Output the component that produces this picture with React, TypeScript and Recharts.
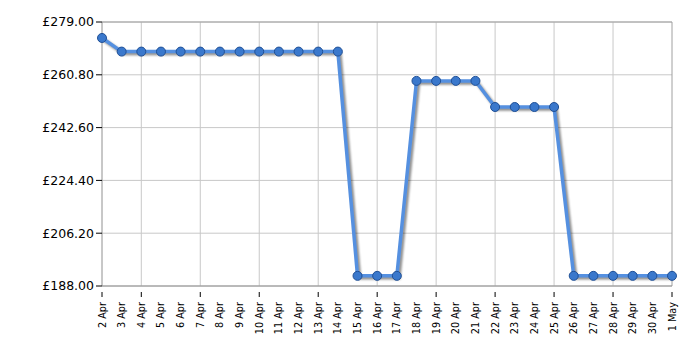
import { CartesianGrid, Line, LineChart, ReferenceLine, XAxis, YAxis } from "recharts";

const days = [
  "2 Apr", "3 Apr", "4 Apr", "5 Apr", "6 Apr", "7 Apr", "8 Apr", "9 Apr", "10 Apr", "11 Apr",
  "12 Apr", "13 Apr", "14 Apr", "15 Apr", "16 Apr", "17 Apr", "18 Apr", "19 Apr", "20 Apr", "21 Apr",
  "22 Apr", "23 Apr", "24 Apr", "25 Apr", "26 Apr", "27 Apr", "28 Apr", "29 Apr", "30 Apr", "1 May",
];

const prices = [
  273.5, 268.8, 268.8, 268.8, 268.8, 268.8, 268.8, 268.8, 268.8, 268.8,
  268.8, 268.8, 268.8, 191.5, 191.5, 191.5, 258.7, 258.7, 258.7, 258.7,
  249.7, 249.7, 249.7, 249.7, 191.5, 191.5, 191.5, 191.5, 191.5, 191.5,
];

const yTicks = [188, 206.2, 224.4, 242.6, 260.8, 279];
// days that get a vertical grid line and a tick mark
const gridDays = ["4 Apr", "7 Apr", "10 Apr", "13 Apr", "16 Apr", "19 Apr", "22 Apr", "25 Apr", "28 Apr"];
const markedDays = ["2 Apr", ...gridDays, "1 May"];

const data = days.map((day, i) => ({ day, price: prices[i] }));

const font = "'DejaVu Sans', Verdana, sans-serif";

function DayTick(props: any) {
  const { x, y, payload } = props;
  const marked = markedDays.includes(payload.value);
  return (
    <g>
      {marked && <line x1={x} y1={y - 8} x2={x} y2={y - 3} stroke="#000" strokeWidth={1} />}
      <text
        x={0}
        y={0}
        transform={`translate(${x + 3.5},${y + 2}) rotate(-90)`}
        textAnchor="end"
        fontSize={9.7}
        fontFamily={font}
        fill="#000"
      >
        {payload.value}
      </text>
    </g>
  );
}

export default function App() {
  return (
    <div style={{ position: "absolute", left: 0, top: 0, background: "#fff" }}>
      <style>{`.price-line .recharts-line-curve, .price-line .recharts-line-dots { filter: drop-shadow(2px 2px 1px rgba(0,0,0,0.45)); }`}</style>
      <LineChart width={700} height={350} data={data} margin={{ top: 22, right: 28, left: 0, bottom: 0 }}>
        <CartesianGrid vertical={false} stroke="#c8c8c8" />
        {gridDays.map((d) => (
          <ReferenceLine key={d} x={d} stroke="#c8c8c8" />
        ))}
        <ReferenceLine y={279} stroke="#a0a0a0" />
        <ReferenceLine x="1 May" stroke="#a0a0a0" />
        <XAxis
          dataKey="day"
          interval={0}
          height={64}
          tickLine={false}
          tick={<DayTick />}
          tickMargin={8}
          axisLine={{ stroke: "#909090" }}
        />
        <YAxis
          width={102}
          domain={[188, 279]}
          ticks={yTicks}
          tickFormatter={(v: number) => `£${v.toFixed(2)}`}
          tick={{ fontSize: 12.5, fontFamily: font, fill: "#000" }}
          tickLine={{ stroke: "#000" }}
          tickSize={6}
          axisLine={{ stroke: "#909090" }}
        />
        <Line
          className="price-line"
          type="linear"
          dataKey="price"
          stroke="#5590e0"
          strokeWidth={3.5}
          dot={{ r: 4.5, fill: "#3a78cc", stroke: "#1f4f95", strokeWidth: 1 }}
          isAnimationActive={false}
        />
      </LineChart>
    </div>
  );
}
